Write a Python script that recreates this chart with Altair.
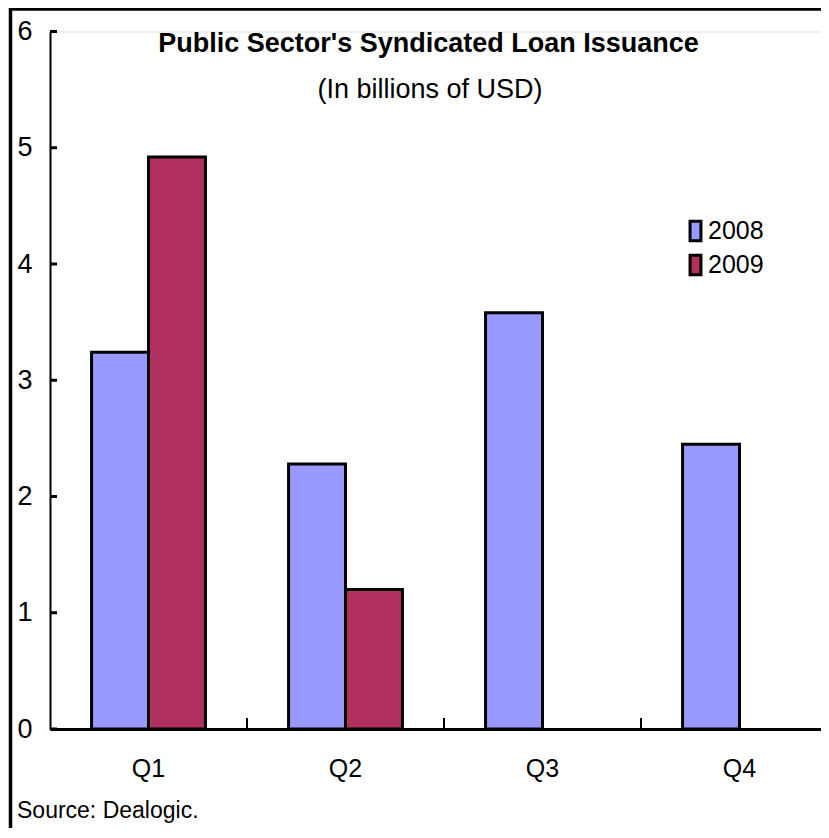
import altair as alt
import pandas as pd

quarters = ["Q1", "Q2", "Q3", "Q4"]
years = ["2008", "2009"]
values_2008 = [3.24, 2.28, 3.58, 2.45]
values_2009 = [4.92, 1.20, None, None]
y_ticks = [0, 1, 2, 3, 4, 5, 6]
title_text = "Public Sector's Syndicated Loan Issuance"
subtitle_text = "(In billions of USD)"
source_text = "Source: Dealogic."
colors = ["#9999FF", "#B03060"]

FONT = "Liberation Sans, Arial, sans-serif"

rows = []
for q, a, b in zip(quarters, values_2008, values_2009):
    if a is not None:
        rows.append({"quarter": q, "year": "2008", "value": a})
    if b is not None:
        rows.append({"quarter": q, "year": "2009", "value": b})
df = pd.DataFrame(rows)
tick_df = pd.DataFrame({"v": y_ticks})
q_df = pd.DataFrame({"quarter": quarters[1:]})
one = pd.DataFrame({"k": [0]})

W = 771
H = 697.5

xscale = alt.Scale(domain=quarters, range=[0, 788], paddingInner=0, paddingOuter=0)
yscale = alt.Scale(domain=[0, 6], nice=False, zero=True)

bars = alt.Chart(df).mark_bar(stroke="black", strokeWidth=3, strokeJoin="miter").encode(
    x=alt.X("quarter:N", scale=xscale, sort=quarters,
            axis=alt.Axis(title=None, labelAngle=0, ticks=False, domainColor="black",
                          domainWidth=3, labelFont=FONT, labelFontSize=25,
                          labelColor="black", labelPadding=27)),
    xOffset=alt.XOffset("year:N", scale=alt.Scale(domain=years, paddingInner=0, paddingOuter=0.73)),
    y=alt.Y("value:Q", scale=yscale,
            axis=alt.Axis(title=None, values=y_ticks, ticks=False, grid=False,
                          domainColor="black", domainWidth=2, labelFont=FONT,
                          labelFontSize=27, labelColor="black", labelPadding=18,
                          format="d")),
    color=alt.Color("year:N", scale=alt.Scale(domain=years, range=colors),
                    legend=alt.Legend(title=None, orient="none", legendX=633, legendY=187,
                                      symbolType="M-0.56,-1H0.56V1H-0.56Z", symbolSize=380,
                                      symbolStrokeColor="black", symbolStrokeWidth=3,
                                      labelFont=FONT, labelFontSize=25, labelColor="black",
                                      labelOffset=0, rowPadding=1, padding=0)),
)

yticks = alt.Chart(tick_df).mark_rule(color="black", strokeWidth=3).encode(
    y=alt.Y("v:Q", scale=yscale), x=alt.value(0), x2=alt.value(7)
)

xticks = alt.Chart(q_df).mark_rule(color="black", strokeWidth=2).encode(
    x=alt.X("quarter:N", scale=xscale, sort=quarters, bandPosition=0),
    y=alt.value(H), y2=alt.value(H - 11)
)

frame_top = alt.Chart(one).mark_rule(color="black", strokeWidth=4).encode(
    x=alt.value(-41), x2=alt.value(W + 10), y=alt.value(-22.7)
)
frame_left = alt.Chart(one).mark_rule(color="black", strokeWidth=3.5).encode(
    x=alt.value(-39.5), y=alt.value(-24.5), y2=alt.value(H + 130)
)

title = alt.Chart(one).mark_text(font=FONT, fontSize=27, fontWeight="bold", color="black",
                                 align="center", baseline="alphabetic").encode(
    x=alt.value(378.5), y=alt.value(20.8), text=alt.value(title_text)
)
subtitle = alt.Chart(one).mark_text(font=FONT, fontSize=27, color="black",
                                    align="center", baseline="alphabetic").encode(
    x=alt.value(380), y=alt.value(66.5), text=alt.value(subtitle_text)
)
source = alt.Chart(one).mark_text(font=FONT, fontSize=23, color="black",
                                  align="left", baseline="alphabetic").encode(
    x=alt.value(-33), y=alt.value(786.5), text=alt.value(source_text)
)

chart = alt.layer(frame_top, frame_left, bars, yticks, xticks, title, subtitle, source).properties(
    width=W, height=H,
    autosize=alt.AutoSizeParams(type="none"),
    padding={"left": 42, "top": 23.5, "right": 0, "bottom": 99},
).configure_view(stroke=None).configure(background="white")

chart.save("out.html", embed_options={"renderer": "svg", "actions": False})
